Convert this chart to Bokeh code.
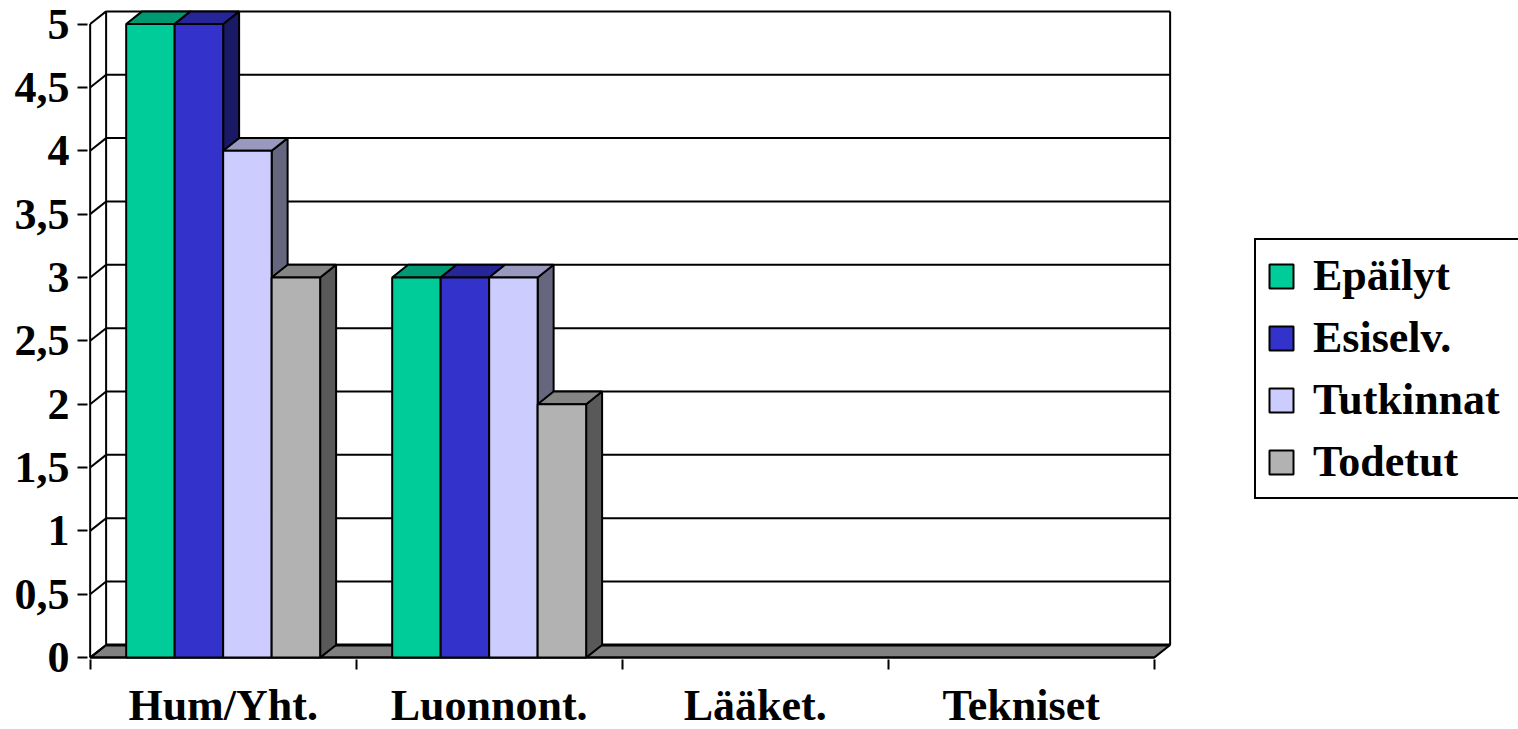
from bokeh.plotting import figure
from bokeh.models import Range1d, FixedTicker, Legend, LegendItem, ColumnDataSource
from bokeh.embed import file_html
from bokeh.resources import INLINE

# ---------------- data ----------------
categories = ["Hum/Yht.", "Luonnont.", "Lääket.", "Tekniset"]
series_names = ["Epäilyt", "Esiselv.", "Tutkinnat", "Todetut"]
epailyt = [5, 3, 0, 0]
esiselv = [5, 3, 0, 0]
tutkinnat = [4, 3, 0, 0]
todetut = [3, 2, 0, 0]
y_ticks = [0, 0.5, 1, 1.5, 2, 2.5, 3, 3.5, 4, 4.5, 5]
y_tick_labels = ["0", "0,5", "1", "1,5", "2", "2,5", "3", "3,5", "4", "4,5", "5"]
colors = ["#00CC99", "#3333CC", "#CCCCFF", "#B2B2B2"]

series_values = [epailyt, esiselv, tutkinnat, todetut]

# ---------------- geometry (3D look) ----------------
DX = 0.06      # depth offset in category units
DY = 0.10      # depth offset in value units
BAR_W = 0.1823
GROUP_START = (1 - 4 * BAR_W) / 2
Y_MAX = y_ticks[-1]
N = len(categories)

FONT = "Liberation Serif"
FS = "44px"


def shade(hexcol, f):
    h = hexcol.lstrip("#")
    r, g, b = (int(h[i:i + 2], 16) for i in (0, 2, 4))
    return "#%02x%02x%02x" % (int(r * f), int(g * f), int(b * f))


p = figure(
    x_range=Range1d(-0.01, 5.3697),
    y_range=Range1d(-0.015, Y_MAX + DY + 0.015),
    frame_width=1431, frame_height=650,
    min_border_left=87, min_border_right=0,
    min_border_top=9, min_border_bottom=70,
    output_backend="svg", toolbar_location=None,
)
p.grid.visible = False
p.outline_line_color = None
p.background_fill_color = "white"
p.border_fill_color = "white"

# floor
p.patch([0, N, N + DX, DX], [0, 0, DY, DY], fill_color="#808080",
        line_color="black", line_width=2)
p.line([DX, N + DX], [DY, DY], line_color="black", line_width=3)

# back wall gridlines
grid_y = [v + DY for v in y_ticks if v > 0]
p.segment(x0=[DX] * len(grid_y), y0=grid_y, x1=[N + DX] * len(grid_y), y1=grid_y,
          line_color="black", line_width=2)
# back wall verticals
p.segment(x0=[DX, N + DX], y0=[DY, DY], x1=[DX, N + DX], y1=[Y_MAX + DY, Y_MAX + DY],
          line_color="black", line_width=2)
# left wall diagonals
p.segment(x0=[0] * len(y_ticks), y0=y_ticks, x1=[DX] * len(y_ticks),
          y1=[v + DY for v in y_ticks], line_color="black", line_width=2)
# front value axis line and front category axis line
p.segment(x0=[0], y0=[0], x1=[0], y1=[Y_MAX], line_color="black", line_width=2)
p.segment(x0=[0], y0=[0], x1=[N], y1=[0], line_color="black", line_width=2)

# bars
legend_items = []
for s, (name, vals, col) in enumerate(zip(series_names, series_values, colors)):
    left, right, top = [], [], []
    side_xs, side_ys, top_xs, top_ys = [], [], [], []
    for c, v in enumerate(vals):
        if v <= 0:
            continue
        x0 = c + GROUP_START + s * BAR_W
        x1 = x0 + BAR_W
        left.append(x0)
        right.append(x1)
        top.append(v)
        side_xs.append([x1, x1 + DX, x1 + DX, x1])
        side_ys.append([0, DY, v + DY, v])
        top_xs.append([x0, x1, x1 + DX, x0 + DX])
        top_ys.append([v, v, v + DY, v + DY])
    p.patches(side_xs, side_ys, fill_color=shade(col, 0.5), line_color="black", line_width=2)
    p.patches(top_xs, top_ys, fill_color=shade(col, 0.75), line_color="black", line_width=2)
    src = ColumnDataSource(dict(left=left, right=right, top=top, bottom=[0] * len(top)))
    r = p.quad(left="left", right="right", top="top", bottom="bottom", source=src,
               fill_color=col, line_color="black", line_width=2)
    legend_items.append(LegendItem(label=name, renderers=[r]))

# x axis
xa = p.xaxis[0]
centers = [i + 0.5 for i in range(N)]
xa.ticker = FixedTicker(ticks=centers, minor_ticks=list(range(N + 1)))
xa.major_label_overrides = {c: lab for c, lab in zip(centers, categories)}
xa.axis_line_color = None
xa.major_tick_line_color = None
xa.major_tick_out = 0
xa.major_tick_in = 0
xa.minor_tick_line_color = "black"
xa.minor_tick_line_width = 2
xa.minor_tick_out = 10
xa.minor_tick_in = 0
xa.major_label_standoff = 11
xa.major_label_text_font = FONT
xa.major_label_text_font_style = "bold"
xa.major_label_text_font_size = FS
xa.major_label_text_color = "black"

# y axis
ya = p.yaxis[0]
ya.ticker = FixedTicker(ticks=y_ticks, minor_ticks=[])
ya.major_label_overrides = {t: lab for t, lab in zip(y_ticks, y_tick_labels)}
ya.axis_line_color = None
ya.major_tick_line_color = "black"
ya.major_tick_line_width = 2
ya.major_tick_out = 10
ya.major_tick_in = 0
ya.major_label_standoff = 8
ya.major_label_text_font = FONT
ya.major_label_text_font_style = "bold"
ya.major_label_text_font_size = FS
ya.major_label_text_color = "black"

legend = Legend(items=legend_items, location=(1167, 160))
legend.border_line_color = "black"
legend.border_line_width = 2
legend.border_line_alpha = 1
legend.background_fill_color = "white"
legend.background_fill_alpha = 1
legend.glyph_width = 30
legend.glyph_height = 30
legend.label_standoff = 17
legend.label_width = 215
legend.label_text_font = FONT
legend.label_text_font_style = "bold"
legend.label_text_font_size = FS
legend.label_text_color = "black"
legend.padding = 10
legend.spacing = 11
legend.margin = 0
p.add_layout(legend)

open("out.html", "w").write(file_html(p, INLINE))
